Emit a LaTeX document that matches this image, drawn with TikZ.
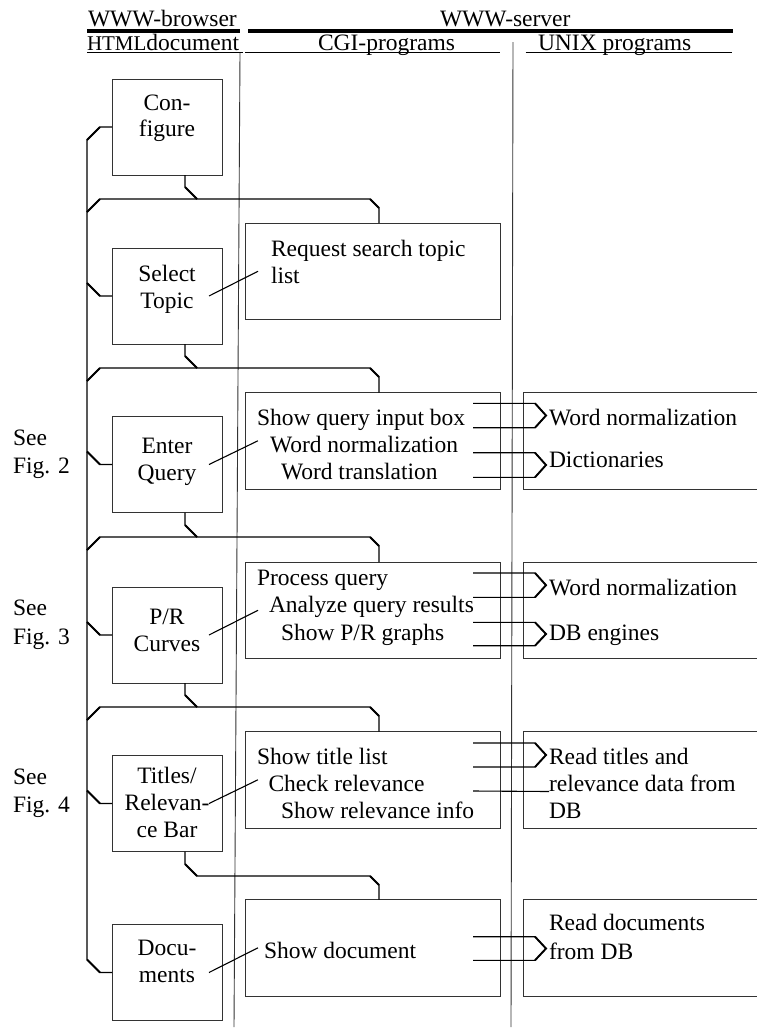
\documentclass[tikz,border=0pt]{standalone}
\usepackage{fontspec}
\setmainfont{Liberation Serif}
\begin{document}
\begin{tikzpicture}[x=1bp,y=-1bp,
  every node/.style={inner sep=0pt, outer sep=0pt, font=\fontsize{23.5bp}{27bp}\selectfont},
  bbox/.style={draw=black!80, line width=0.9bp, anchor=north west, minimum width=110bp, minimum height=96bp},
  cbox/.style={draw=black!80, line width=0.9bp, anchor=north west, minimum width=254.5bp, minimum height=96.5bp},
  ubox/.style={draw=black!80, line width=0.9bp, anchor=north west, minimum width=260bp, minimum height=96.5bp},
  txt/.style={anchor=base west},
  ctxt/.style={anchor=base},
  conn/.style={line width=1.1bp, black},
  chamf/.style={line width=1.9bp, black},
  colline/.style={line width=0.9bp, black!80},
  headline/.style={line width=4bp, black},
  subline/.style={line width=0.9bp, black},
]
\useasboundingbox (0,0) rectangle (757,1028);

% header
\node[txt] (hb) at (88,26.7) {WWW-browser};
\node[txt] (hs) at (440,26.7) {WWW-server};
\node[txt] (hh) at (87,50) {{\fontsize{21bp}{27bp}\selectfont HTML}document};
\node[txt] (hc) at (318,50) {CGI-programs};
\node[txt] (hu) at (538,50) {UNIX programs};
\draw[headline] (87,31) -- (240,31);
\draw[headline] (248,31) -- (733,31);
\draw[subline] (87,52.7) -- (243,52.7);
\draw[subline] (245,52.7) -- (500,52.7);
\draw[subline] (525.7,52.7) -- (732,52.7);

% column separators
\draw[colline] (240,53) -- (234,1027);
\draw[colline] (513,42) -- (511,1027);

% browser boxes
\node[bbox] (b1) at (112,79) {};
\node[bbox] (b2) at (112,248) {};
\node[bbox] (b3) at (112,416.5) {};
\node[bbox] (b4) at (112,587) {};
\node[bbox] (b5) at (112,755.5) {};
\node[bbox] (b6) at (112,924.5) {};

\node[ctxt] (b1a) at (167,110) {Con-};
\node[ctxt] (b1b) at (167,136) {figure};
\node[ctxt] (b2a) at (167,281) {Select};
\node[ctxt] (b2b) at (167,308) {Topic};
\node[ctxt] (b3a) at (167,453) {Enter};
\node[ctxt] (b3b) at (167,480) {Query};
\node[ctxt] (b4a) at (167,624) {P/R};
\node[ctxt] (b4b) at (167,651) {Curves};
\node[ctxt] (b5a) at (167,783) {Titles/};
\node[ctxt] (b5b) at (167,810) {Relevan-};
\node[ctxt] (b5c) at (167,837) {ce Bar};
\node[ctxt] (b6a) at (167,955) {Docu-};
\node[ctxt] (b6b) at (167,982) {ments};

% See Fig. labels
\node[txt] (s2a) at (13,445) {See};
\node[txt] (s2b) at (13,473.5) {Fig. 2};
\node[txt] (s3a) at (13,615.5) {See};
\node[txt] (s3b) at (13,644) {Fig. 3};
\node[txt] (s4a) at (13,784) {See};
\node[txt] (s4b) at (13,812.5) {Fig. 4};

% CGI boxes
\node[cbox] (c1) at (245.5,223) {};
\node[cbox] (c2) at (245.5,392.5) {};
\node[cbox] (c3) at (245.5,562) {};
\node[cbox] (c4) at (245.5,731.5) {};
\node[cbox] (c5) at (245.5,899.5) {};

\node[txt] (c1a) at (271,256.7) {Request search topic};
\node[txt] (c1b) at (271,283) {list};
\node[txt] (c2a) at (257,425.7) {Show query input box};
\node[txt] (c2b) at (270,452.7) {Word normalization};
\node[txt] (c2c) at (281,479.3) {Word translation};
\node[txt] (c3a) at (257,585) {Process query};
\node[txt] (c3b) at (269,612.7) {Analyze query results};
\node[txt] (c3c) at (281,640) {Show P/R graphs};
\node[txt] (c4a) at (257,764) {Show title list};
\node[txt] (c4b) at (268.5,791.5) {Check relevance};
\node[txt] (c4c) at (281,818.5) {Show relevance info};
\node[txt] (c5a) at (264,958) {Show document};

% UNIX boxes
\node[ubox] (u2) at (523.5,392.5) {};
\node[ubox] (u3) at (523.5,562) {};
\node[ubox] (u4) at (523.5,731.5) {};
\node[ubox] (u5) at (523.5,899.5) {};

\node[txt] (u2a) at (549,425.7) {Word normalization};
\node[txt] (u2b) at (549,467.5) {Dictionaries};
\node[txt] (u3a) at (549,595) {Word normalization};
\node[txt] (u3b) at (549,640) {DB engines};
\node[txt] (u4a) at (549,764) {Read titles and};
\node[txt] (u4b) at (549,791.5) {relevance data from};
\node[txt] (u4c) at (549,818.5) {DB};
\node[txt] (u5a) at (549,930) {Read documents};
\node[txt] (u5b) at (549,959) {from DB};

% left bus
\draw[conn] (b1.west) -- (100,127) -- (87,140) -- (87,959.5) -- (100,972.5) -- (b6.west);
\draw[chamf] (100,127) -- (87,140);
\draw[chamf] (87,959.5) -- (100,972.5);
\foreach \m/\b in {296/b2,464.5/b3,635/b4,803.5/b5}{
  \draw[conn] (87,\m-13) -- (100,\m) -- (\b.west);
  \draw[chamf] (87,\m-13) -- (100,\m);
}

% returns from browser boxes to next CGI box
\foreach \H/\b/\c in {199/b1/c1,368/b2/c2,537/b3/c3,707/b4/c4}{
  \draw[conn] (87,\H+13) -- (100,\H) -- (370,\H) -- (379,\H+9) -- ([xshift=6.25bp]\c.north);
  \draw[chamf] (87,\H+13) -- (100,\H);
  \draw[chamf] (370,\H) -- (379,\H+9);
  \draw[conn] ([xshift=18bp]\b.south) -- (185,\H-12) -- (197,\H);
  \draw[chamf] (185,\H-12) -- (197,\H);
}
\draw[conn] ([xshift=18bp]b5.south) -- (185,864) -- (197,876) -- (370,876) -- (379,885) -- ([xshift=6.25bp]c5.north);
\draw[chamf] (185,864) -- (197,876);
\draw[chamf] (370,876) -- (379,885);

% diagonal links browser -> CGI
\foreach \b/\c in {b2/c1,b3/c2,b4/c3,b5/c4,b6/c5}{
  \draw[conn] ([xshift=42bp]\b.center) -- ([xshift=12.5bp]\c.west);
}

% CGI -> UNIX paired connectors
\foreach \ya/\yb in {403.3/427.7,452.7/477.3,573/597.3,622.3/645.7,743/767,936.7/960.3}{
  \draw[conn] (473,\ya) -- (535,\ya) -- (546,{(\ya+\yb)/2}) -- (535,\yb) -- (473,\yb);
  \draw[chamf] (535,\ya) -- (546,{(\ya+\yb)/2}) -- (535,\yb);
}
\draw[conn] (473,791) -- (u4b.base west);
\end{tikzpicture}
\end{document}
